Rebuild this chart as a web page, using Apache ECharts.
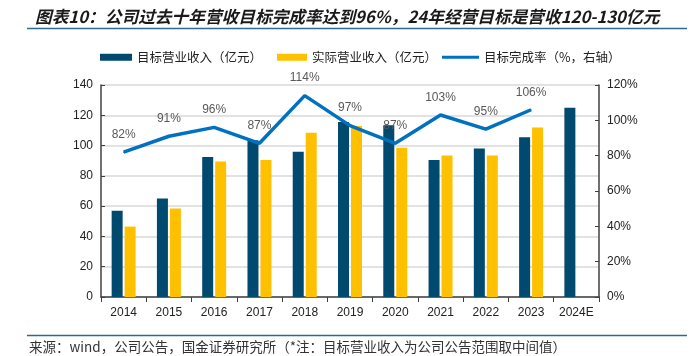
<!DOCTYPE html>
<html><head><meta charset="utf-8">
<script src="https://cdn.jsdelivr.net/npm/echarts@6/dist/echarts.min.js"></script>
<style>html,body{margin:0;padding:0;background:#fff}#c{width:699px;height:356px}</style>
</head><body><div id="c"></div>
<script>
const categories = ['2014','2015','2016','2017','2018','2019','2020','2021','2022','2023','2024E'];
const targetRevenue = [57, 65, 92.5, 103.5, 96, 115.5, 113.5, 90.5, 98, 105.5, 125];
const actualRevenue = [46.5, 58.5, 89.5, 90.5, 108.5, 113, 98.5, 93.5, 93.5, 112, null];
const completionRate = [82, 91, 96, 87, 114, 97, 87, 103, 95, 106, null];
const leftTicks = [0, 140, 20];
const rightTicks = [0, 120, 20];
const seriesNames = ['目标营业收入（亿元）', '实际营业收入（亿元）', '目标完成率（%，右轴）'];

const chart = echarts.init(document.getElementById('c'));
const fontCJK = '"Noto Sans CJK SC", sans-serif';
const legendText = {fontFamily: fontCJK, fontSize: 12.5, color: '#222'};
chart.setOption({
  animation: false,
  title: [{
    text: '图表10：公司过去十年营收目标完成率达到96%，24年经营目标是营收120-130亿元',
    left: 30, top: 3,
    textStyle: {fontFamily: fontCJK, fontSize: 16.7, fontWeight: 'bold', fontStyle: 'italic', color: '#1a1a1a'}
  }, {
    text: '来源：wind，公司公告，国金证券研究所（*注：目标营业收入为公司公告范围取中间值）',
    left: 29, top: 340, padding: 0,
    textStyle: {fontFamily: fontCJK, fontSize: 13.5, fontWeight: 'normal', color: '#333'}
  }],
  graphic: [
    {type: 'line', shape: {x1: 27, y1: 28.5, x2: 687, y2: 28.5}, style: {stroke: '#2F6A8C', lineWidth: 1.5}},
    {type: 'line', shape: {x1: 27, y1: 335.5, x2: 687, y2: 335.5}, style: {stroke: '#2F6A8C', lineWidth: 1.5}}
  ],
  legend: [{
    top: 46, left: 95, itemWidth: 32, itemHeight: 7, textStyle: legendText,
    data: [{name: seriesNames[0], icon: 'rect'}]
  }, {
    top: 46, left: 272, itemWidth: 30, itemHeight: 7, textStyle: legendText,
    data: [{name: seriesNames[1], icon: 'rect'}]
  }, {
    top: 46, left: 437, itemWidth: 37, itemHeight: 3, textStyle: legendText,
    data: [{name: seriesNames[2], icon: 'rect'}]
  }],
  grid: {left: 101, right: 100, top: 85, bottom: 59},
  xAxis: {
    type: 'category', data: categories,
    axisLine: {lineStyle: {color: '#404040', width: 1.5}},
    axisTick: {show: true, inside: false, length: 5, lineStyle: {color: '#404040'}},
    axisLabel: {fontFamily: 'Liberation Sans, Arial', fontSize: 12, color: '#222', margin: 10}
  },
  yAxis: [{
    type: 'value', min: leftTicks[0], max: leftTicks[1], interval: leftTicks[2],
    axisLine: {show: true, lineStyle: {color: '#404040', width: 1.5}},
    axisTick: {show: true, inside: true, length: 4, lineStyle: {color: '#404040'}},
    splitLine: {lineStyle: {color: '#D9D9D9', width: 1.5}},
    axisLabel: {fontFamily: 'Liberation Sans, Arial', fontSize: 12, color: '#222', margin: 8}
  }, {
    type: 'value', min: rightTicks[0], max: rightTicks[1], interval: rightTicks[2],
    axisLine: {show: true, lineStyle: {color: '#404040', width: 1.5}},
    axisTick: {show: true, inside: true, length: 4, lineStyle: {color: '#404040'}},
    splitLine: {show: false},
    axisLabel: {fontFamily: 'Liberation Sans, Arial', fontSize: 12, color: '#222', margin: 8, formatter: '{value}%'}
  }],
  series: [{
    name: seriesNames[0], type: 'bar', data: targetRevenue,
    barWidth: 11, barGap: '18%',
    itemStyle: {color: '#00496F'}
  }, {
    name: seriesNames[1], type: 'bar', data: actualRevenue,
    barWidth: 11,
    itemStyle: {color: '#FFC000'}
  }, {
    name: seriesNames[2], type: 'line', yAxisIndex: 1, data: completionRate,
    symbol: 'circle', symbolSize: 1, showSymbol: true,
    lineStyle: {color: '#0070C0', width: 3.5}, itemStyle: {color: '#0070C0'},
    label: {show: true, position: 'top', distance: 11, formatter: '{c}%',
      fontFamily: 'Liberation Sans, Arial', fontSize: 12, color: '#595959'},
    labelLayout: {hideOverlap: false},
    z: 5
  }]
});
</script></body></html>
